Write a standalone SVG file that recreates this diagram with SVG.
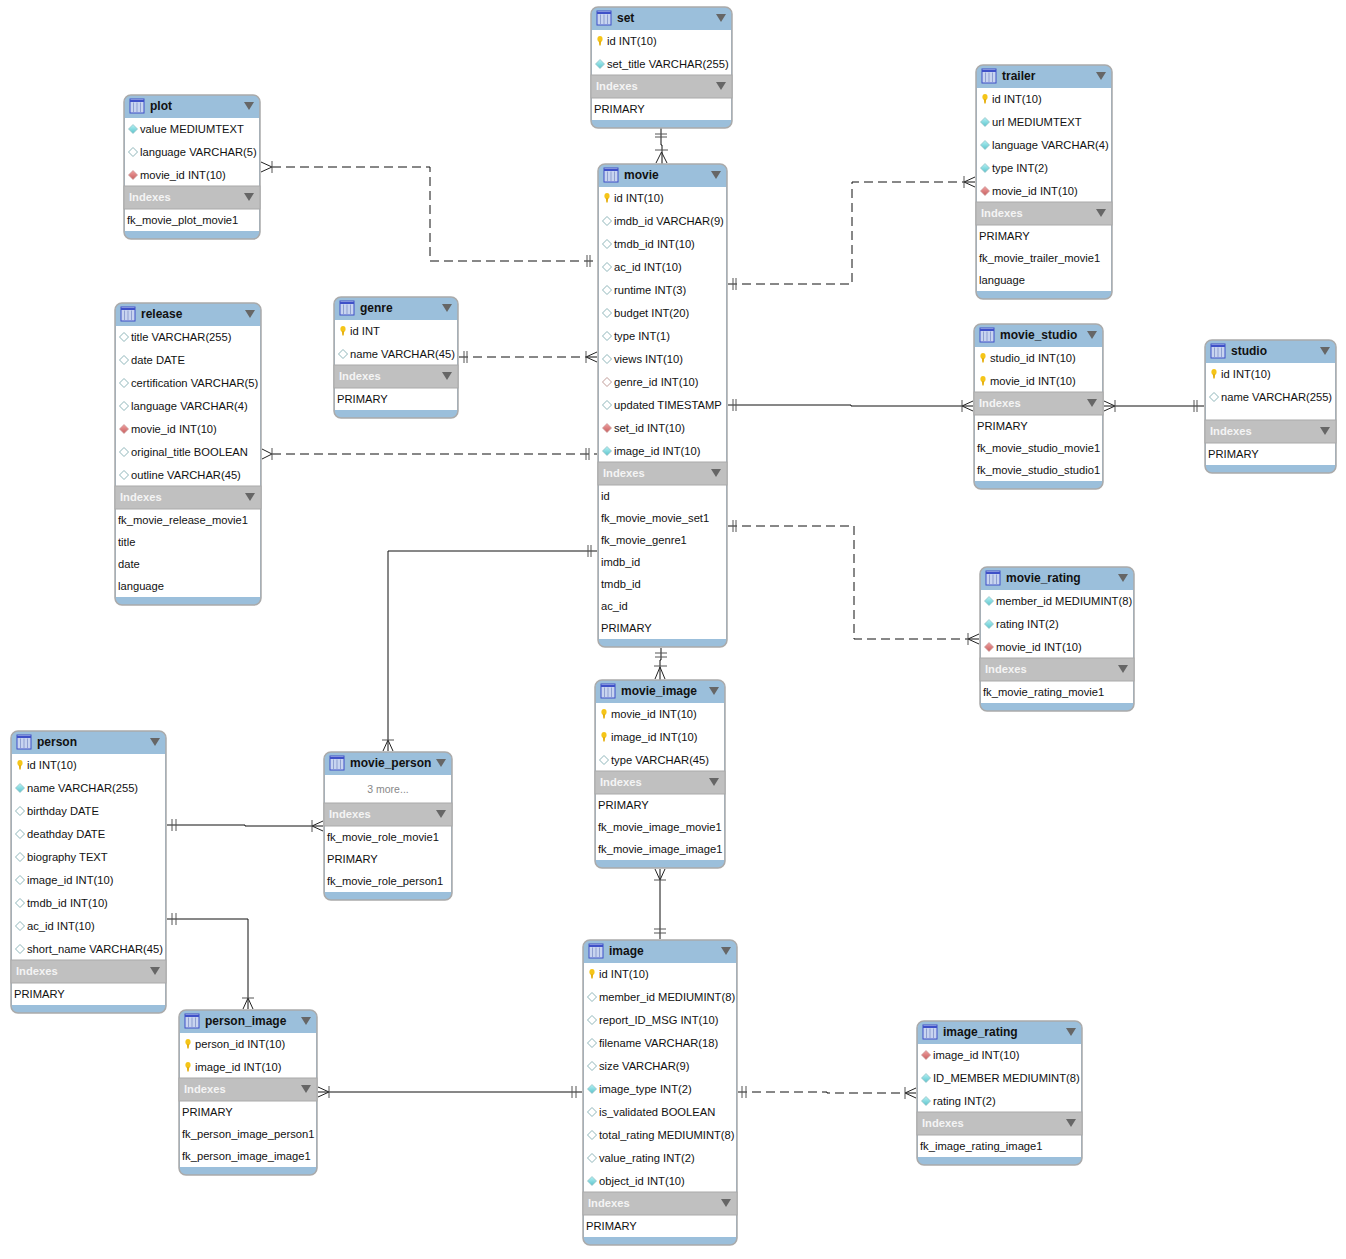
<svg xmlns="http://www.w3.org/2000/svg" xmlns:xlink="http://www.w3.org/1999/xlink" width="1346" height="1259" viewBox="0 0 1346 1259">
<style>
text{font-family:"Liberation Sans",Arial,sans-serif;font-size:11.2px;fill:#111;dominant-baseline:central}
.ti{font-size:12px;font-weight:bold}
.ix{font-weight:bold;fill:#f4f4f4}
.mo{fill:#888;text-anchor:middle;font-size:10.5px}
.o{fill:#9bbfdb;stroke:#aaa;stroke-width:1.5}
.b{fill:#fff}
.g{fill:#c0c0c0;stroke:#aaa;stroke-width:1}
.c{fill:none;stroke:#111;stroke-width:1}
.d{stroke-dasharray:9 5}
.m{fill:none;stroke:#222;stroke-width:1}
.m2{fill:none;stroke:#555;stroke-width:1}
</style>
<defs>
<linearGradient id="gc" x1="0" y1="0" x2="0" y2="1"><stop offset="0" stop-color="#b5f2f5"/><stop offset="1" stop-color="#5cc4cc"/></linearGradient>
<linearGradient id="gr" x1="0" y1="0" x2="0" y2="1"><stop offset="0" stop-color="#f0a0a0"/><stop offset="1" stop-color="#c86060"/></linearGradient>
<g id="ht"><rect x="0" y="-7" width="14" height="14" fill="#c8d4f0" stroke="#3f51c8" stroke-width="1"/><path d="M0-5H14" stroke="#3f51c8" stroke-width="2"/><path d="M3.5-3.500V6M7-3.500V6M10.500-3.500V6" stroke="#8f9fd0" stroke-width="1"/></g>
<path id="tr" d="M0-4H10L5 4Z" fill="#666"/>
<g id="k"><ellipse cx="0" cy="-2" rx="2.600" ry="3" fill="#f5c518"/><path d="M-1.200 0H1.200L.7 4.500H-.7Z" fill="#e6b010"/></g>
<path id="dc" d="M0-4.500L4.500 0L0 4.500L-4.500 0Z" fill="url(#gc)" stroke="#8fbcc0" stroke-width=".7"/>
<path id="dh" d="M0-4.500L4.500 0L0 4.500L-4.500 0Z" fill="#fff" stroke="#8fb6ba" stroke-width="1"/>
<path id="dr" d="M0-4.500L4.500 0L0 4.500L-4.500 0Z" fill="url(#gr)" stroke="#c49494" stroke-width=".7"/>
<path id="dq" d="M0-4.500L4.500 0L0 4.500L-4.500 0Z" fill="#fff" stroke="#c09c98" stroke-width="1"/>
</defs>
<g id="connectors">
<path class="c" d="M661 128V145H662V164"/><path class="m2" d="M655 134H667M655 137H667M655 150H668"/><path class="m" d="M656 163L661.500 152L667 163"/>
<path class="c d" d="M272 167H430V261H597"/><path class="m" d="M261 162L272 167L261 172"/><path class="m2" d="M272 161V173M587 255V267M590 255V267"/>
<path class="c d" d="M272 454H597"/><path class="m" d="M262 449L272 454L262 459"/><path class="m2" d="M272 448V460M586 448V460M589 448V460"/>
<path class="c d" d="M459 357H586"/><path class="c" d="M586 357H597"/><path class="m" d="M597 352L586 357L597 362"/><path class="m2" d="M586 351V363M464 351V363M467 351V363"/>
<path class="c d" d="M728 284H852V182H964"/><path class="c" d="M964 182H975"/><path class="m" d="M975 177L964 182L975 187"/><path class="m2" d="M964 176V188M733 278V290M736 278V290"/>
<path class="c" d="M728 405H851V406H973"/><path class="m" d="M973 401L962 406L973 411"/><path class="m2" d="M962 400V412M733 399V411M736 399V411"/>
<path class="c" d="M1104 406H1204"/><path class="m" d="M1104 401L1115 406L1104 411"/><path class="m2" d="M1115 400V412M1194 400V412M1197 400V412"/>
<path class="c d" d="M728 526H854V639H968"/><path class="c" d="M968 639H979"/><path class="m" d="M979 634L968 639L979 644"/><path class="m2" d="M968 633V645M733 520V532M736 520V532"/>
<path class="c" d="M597 551H388V751"/><path class="m" d="M383 751L388 740L393 751"/><path class="m2" d="M382 740H394M588 545V557M591 545V557"/>
<path class="c" d="M661 648V660H660V680"/><path class="m2" d="M655 653H667M655 657H667M654 666H667"/><path class="m" d="M655 679L660 667L665 679"/>
<path class="c" d="M660 869V939"/><path class="m" d="M655 869L660 880L665 869"/><path class="m2" d="M654 880H666M654 929H666M654 933H666"/>
<path class="c" d="M167 825H245V826H323"/><path class="m" d="M323 821L312 826L323 831"/><path class="m2" d="M312 820V832M172 819V831M176 819V831"/>
<path class="c" d="M167 919H248V1009"/><path class="m" d="M243 1009L248 998L253 1009"/><path class="m2" d="M242 998H254M172 913V925M176 913V925"/>
<path class="c" d="M318 1092H582"/><path class="m" d="M318 1087L329 1092L318 1097"/><path class="m2" d="M329 1086V1098M572 1086V1098M576 1086V1098"/>
<path class="c d" d="M738 1092H827V1093H905"/><path class="c" d="M905 1093H916"/><path class="m" d="M916 1088L905 1093L916 1098"/><path class="m2" d="M905 1087V1099M742 1086V1098M746 1086V1098"/>
</g>
<g id="plot"><rect class="o" x="124" y="95" width="136" height="144" rx="7"/><rect class="b" x="125" y="118" width="134" height="113"/><rect class="g" x="124" y="186" width="136" height="23"/>
<use href="#ht" x="130" y="106"/><text class="ti" x="150" y="106">plot</text><use href="#tr" x="244" y="106"/>
<use href="#dc" x="133" y="129"/><text x="140" y="129">value MEDIUMTEXT</text><use href="#dh" x="133" y="152"/><text x="140" y="152">language VARCHAR(5)</text><use href="#dr" x="133" y="175"/><text x="140" y="175">movie_id INT(10)</text>
<text class="ix" x="129" y="197">Indexes</text><use href="#tr" x="244" y="197"/><text x="127" y="220">fk_movie_plot_movie1</text></g>
<g id="release"><rect class="o" x="115" y="303" width="146" height="302" rx="7"/><rect class="b" x="116" y="326" width="144" height="271"/><rect class="g" x="115" y="486" width="146" height="23"/>
<use href="#ht" x="121" y="314"/><text class="ti" x="141" y="314">release</text><use href="#tr" x="245" y="314"/>
<use href="#dh" x="124" y="337"/><text x="131" y="337">title VARCHAR(255)</text><use href="#dh" x="124" y="360"/><text x="131" y="360">date DATE</text><use href="#dh" x="124" y="383"/><text x="131" y="383">certification VARCHAR(5)</text><use href="#dh" x="124" y="406"/><text x="131" y="406">language VARCHAR(4)</text><use href="#dr" x="124" y="429"/><text x="131" y="429">movie_id INT(10)</text><use href="#dh" x="124" y="452"/><text x="131" y="452">original_title BOOLEAN</text><use href="#dh" x="124" y="475"/><text x="131" y="475">outline VARCHAR(45)</text>
<text class="ix" x="120" y="497">Indexes</text><use href="#tr" x="245" y="497"/><text x="118" y="520">fk_movie_release_movie1</text><text x="118" y="542">title</text><text x="118" y="564">date</text><text x="118" y="586">language</text></g>
<g id="genre"><rect class="o" x="334" y="297" width="124" height="121" rx="7"/><rect class="b" x="335" y="320" width="122" height="90"/><rect class="g" x="334" y="365" width="124" height="23"/>
<use href="#ht" x="340" y="308"/><text class="ti" x="360" y="308">genre</text><use href="#tr" x="442" y="308"/>
<use href="#k" x="343" y="331"/><text x="350" y="331">id INT</text><use href="#dh" x="343" y="354"/><text x="350" y="354">name VARCHAR(45)</text>
<text class="ix" x="339" y="376">Indexes</text><use href="#tr" x="442" y="376"/><text x="337" y="399">PRIMARY</text></g>
<g id="set"><rect class="o" x="591" y="7" width="141" height="121" rx="7"/><rect class="b" x="592" y="30" width="139" height="90"/><rect class="g" x="591" y="75" width="141" height="23"/>
<use href="#ht" x="597" y="18"/><text class="ti" x="617" y="18">set</text><use href="#tr" x="716" y="18"/>
<use href="#k" x="600" y="41"/><text x="607" y="41">id INT(10)</text><use href="#dc" x="600" y="64"/><text x="607" y="64">set_title VARCHAR(255)</text>
<text class="ix" x="596" y="86">Indexes</text><use href="#tr" x="716" y="86"/><text x="594" y="109">PRIMARY</text></g>
<g id="movie"><rect class="o" x="598" y="164" width="129" height="483" rx="7"/><rect class="b" x="599" y="187" width="127" height="452"/><rect class="g" x="598" y="462" width="129" height="23"/>
<use href="#ht" x="604" y="175"/><text class="ti" x="624" y="175">movie</text><use href="#tr" x="711" y="175"/>
<use href="#k" x="607" y="198"/><text x="614" y="198">id INT(10)</text><use href="#dh" x="607" y="221"/><text x="614" y="221">imdb_id VARCHAR(9)</text><use href="#dh" x="607" y="244"/><text x="614" y="244">tmdb_id INT(10)</text><use href="#dh" x="607" y="267"/><text x="614" y="267">ac_id INT(10)</text><use href="#dh" x="607" y="290"/><text x="614" y="290">runtime INT(3)</text><use href="#dh" x="607" y="313"/><text x="614" y="313">budget INT(20)</text><use href="#dh" x="607" y="336"/><text x="614" y="336">type INT(1)</text><use href="#dh" x="607" y="359"/><text x="614" y="359">views INT(10)</text><use href="#dq" x="607" y="382"/><text x="614" y="382">genre_id INT(10)</text><use href="#dh" x="607" y="405"/><text x="614" y="405">updated TIMESTAMP</text><use href="#dr" x="607" y="428"/><text x="614" y="428">set_id INT(10)</text><use href="#dc" x="607" y="451"/><text x="614" y="451">image_id INT(10)</text>
<text class="ix" x="603" y="473">Indexes</text><use href="#tr" x="711" y="473"/><text x="601" y="496">id</text><text x="601" y="518">fk_movie_movie_set1</text><text x="601" y="540">fk_movie_genre1</text><text x="601" y="562">imdb_id</text><text x="601" y="584">tmdb_id</text><text x="601" y="606">ac_id</text><text x="601" y="628">PRIMARY</text></g>
<g id="trailer"><rect class="o" x="976" y="65" width="136" height="234" rx="7"/><rect class="b" x="977" y="88" width="134" height="203"/><rect class="g" x="976" y="202" width="136" height="23"/>
<use href="#ht" x="982" y="76"/><text class="ti" x="1002" y="76">trailer</text><use href="#tr" x="1096" y="76"/>
<use href="#k" x="985" y="99"/><text x="992" y="99">id INT(10)</text><use href="#dc" x="985" y="122"/><text x="992" y="122">url MEDIUMTEXT</text><use href="#dc" x="985" y="145"/><text x="992" y="145">language VARCHAR(4)</text><use href="#dc" x="985" y="168"/><text x="992" y="168">type INT(2)</text><use href="#dr" x="985" y="191"/><text x="992" y="191">movie_id INT(10)</text>
<text class="ix" x="981" y="213">Indexes</text><use href="#tr" x="1096" y="213"/><text x="979" y="236">PRIMARY</text><text x="979" y="258">fk_movie_trailer_movie1</text><text x="979" y="280">language</text></g>
<g id="movie_studio"><rect class="o" x="974" y="324" width="129" height="165" rx="7"/><rect class="b" x="975" y="347" width="127" height="134"/><rect class="g" x="974" y="392" width="129" height="23"/>
<use href="#ht" x="980" y="335"/><text class="ti" x="1000" y="335">movie_studio</text><use href="#tr" x="1087" y="335"/>
<use href="#k" x="983" y="358"/><text x="990" y="358">studio_id INT(10)</text><use href="#k" x="983" y="381"/><text x="990" y="381">movie_id INT(10)</text>
<text class="ix" x="979" y="403">Indexes</text><use href="#tr" x="1087" y="403"/><text x="977" y="426">PRIMARY</text><text x="977" y="448">fk_movie_studio_movie1</text><text x="977" y="470">fk_movie_studio_studio1</text></g>
<g id="studio"><rect class="o" x="1205" y="340" width="131" height="133" rx="7"/><rect class="b" x="1206" y="363" width="129" height="102"/><rect class="g" x="1205" y="420" width="131" height="23"/>
<use href="#ht" x="1211" y="351"/><text class="ti" x="1231" y="351">studio</text><use href="#tr" x="1320" y="351"/>
<use href="#k" x="1214" y="374"/><text x="1221" y="374">id INT(10)</text><use href="#dh" x="1214" y="397"/><text x="1221" y="397">name VARCHAR(255)</text>
<text class="ix" x="1210" y="431">Indexes</text><use href="#tr" x="1320" y="431"/><text x="1208" y="454">PRIMARY</text></g>
<g id="movie_rating"><rect class="o" x="980" y="567" width="154" height="144" rx="7"/><rect class="b" x="981" y="590" width="152" height="113"/><rect class="g" x="980" y="658" width="154" height="23"/>
<use href="#ht" x="986" y="578"/><text class="ti" x="1006" y="578">movie_rating</text><use href="#tr" x="1118" y="578"/>
<use href="#dc" x="989" y="601"/><text x="996" y="601">member_id MEDIUMINT(8)</text><use href="#dc" x="989" y="624"/><text x="996" y="624">rating INT(2)</text><use href="#dr" x="989" y="647"/><text x="996" y="647">movie_id INT(10)</text>
<text class="ix" x="985" y="669">Indexes</text><use href="#tr" x="1118" y="669"/><text x="983" y="692">fk_movie_rating_movie1</text></g>
<g id="movie_image"><rect class="o" x="595" y="680" width="130" height="188" rx="7"/><rect class="b" x="596" y="703" width="128" height="157"/><rect class="g" x="595" y="771" width="130" height="23"/>
<use href="#ht" x="601" y="691"/><text class="ti" x="621" y="691">movie_image</text><use href="#tr" x="709" y="691"/>
<use href="#k" x="604" y="714"/><text x="611" y="714">movie_id INT(10)</text><use href="#k" x="604" y="737"/><text x="611" y="737">image_id INT(10)</text><use href="#dh" x="604" y="760"/><text x="611" y="760">type VARCHAR(45)</text>
<text class="ix" x="600" y="782">Indexes</text><use href="#tr" x="709" y="782"/><text x="598" y="805">PRIMARY</text><text x="598" y="827">fk_movie_image_movie1</text><text x="598" y="849">fk_movie_image_image1</text></g>
<g id="movie_person"><rect class="o" x="324" y="752" width="128" height="148" rx="7"/><rect class="b" x="325" y="775" width="126" height="117"/><rect class="g" x="324" y="803" width="128" height="23"/>
<use href="#ht" x="330" y="763"/><text class="ti" x="350" y="763">movie_person</text><use href="#tr" x="436" y="763"/>
<text class="mo" x="388" y="789">3 more...</text>
<text class="ix" x="329" y="814">Indexes</text><use href="#tr" x="436" y="814"/><text x="327" y="837">fk_movie_role_movie1</text><text x="327" y="859">PRIMARY</text><text x="327" y="881">fk_movie_role_person1</text></g>
<g id="person"><rect class="o" x="11" y="731" width="155" height="282" rx="7"/><rect class="b" x="12" y="754" width="153" height="251"/><rect class="g" x="11" y="960" width="155" height="23"/>
<use href="#ht" x="17" y="742"/><text class="ti" x="37" y="742">person</text><use href="#tr" x="150" y="742"/>
<use href="#k" x="20" y="765"/><text x="27" y="765">id INT(10)</text><use href="#dc" x="20" y="788"/><text x="27" y="788">name VARCHAR(255)</text><use href="#dh" x="20" y="811"/><text x="27" y="811">birthday DATE</text><use href="#dh" x="20" y="834"/><text x="27" y="834">deathday DATE</text><use href="#dh" x="20" y="857"/><text x="27" y="857">biography TEXT</text><use href="#dh" x="20" y="880"/><text x="27" y="880">image_id INT(10)</text><use href="#dh" x="20" y="903"/><text x="27" y="903">tmdb_id INT(10)</text><use href="#dh" x="20" y="926"/><text x="27" y="926">ac_id INT(10)</text><use href="#dh" x="20" y="949"/><text x="27" y="949">short_name VARCHAR(45)</text>
<text class="ix" x="16" y="971">Indexes</text><use href="#tr" x="150" y="971"/><text x="14" y="994">PRIMARY</text></g>
<g id="person_image"><rect class="o" x="179" y="1010" width="138" height="165" rx="7"/><rect class="b" x="180" y="1033" width="136" height="134"/><rect class="g" x="179" y="1078" width="138" height="23"/>
<use href="#ht" x="185" y="1021"/><text class="ti" x="205" y="1021">person_image</text><use href="#tr" x="301" y="1021"/>
<use href="#k" x="188" y="1044"/><text x="195" y="1044">person_id INT(10)</text><use href="#k" x="188" y="1067"/><text x="195" y="1067">image_id INT(10)</text>
<text class="ix" x="184" y="1089">Indexes</text><use href="#tr" x="301" y="1089"/><text x="182" y="1112">PRIMARY</text><text x="182" y="1134">fk_person_image_person1</text><text x="182" y="1156">fk_person_image_image1</text></g>
<g id="image"><rect class="o" x="583" y="940" width="154" height="305" rx="7"/><rect class="b" x="584" y="963" width="152" height="274"/><rect class="g" x="583" y="1192" width="154" height="23"/>
<use href="#ht" x="589" y="951"/><text class="ti" x="609" y="951">image</text><use href="#tr" x="721" y="951"/>
<use href="#k" x="592" y="974"/><text x="599" y="974">id INT(10)</text><use href="#dh" x="592" y="997"/><text x="599" y="997">member_id MEDIUMINT(8)</text><use href="#dh" x="592" y="1020"/><text x="599" y="1020">report_ID_MSG INT(10)</text><use href="#dh" x="592" y="1043"/><text x="599" y="1043">filename VARCHAR(18)</text><use href="#dh" x="592" y="1066"/><text x="599" y="1066">size VARCHAR(9)</text><use href="#dc" x="592" y="1089"/><text x="599" y="1089">image_type INT(2)</text><use href="#dh" x="592" y="1112"/><text x="599" y="1112">is_validated BOOLEAN</text><use href="#dh" x="592" y="1135"/><text x="599" y="1135">total_rating MEDIUMINT(8)</text><use href="#dh" x="592" y="1158"/><text x="599" y="1158">value_rating INT(2)</text><use href="#dc" x="592" y="1181"/><text x="599" y="1181">object_id INT(10)</text>
<text class="ix" x="588" y="1203">Indexes</text><use href="#tr" x="721" y="1203"/><text x="586" y="1226">PRIMARY</text></g>
<g id="image_rating"><rect class="o" x="917" y="1021" width="165" height="144" rx="7"/><rect class="b" x="918" y="1044" width="163" height="113"/><rect class="g" x="917" y="1112" width="165" height="23"/>
<use href="#ht" x="923" y="1032"/><text class="ti" x="943" y="1032">image_rating</text><use href="#tr" x="1066" y="1032"/>
<use href="#dr" x="926" y="1055"/><text x="933" y="1055">image_id INT(10)</text><use href="#dc" x="926" y="1078"/><text x="933" y="1078">ID_MEMBER MEDIUMINT(8)</text><use href="#dc" x="926" y="1101"/><text x="933" y="1101">rating INT(2)</text>
<text class="ix" x="922" y="1123">Indexes</text><use href="#tr" x="1066" y="1123"/><text x="920" y="1146">fk_image_rating_image1</text></g>
</svg>
